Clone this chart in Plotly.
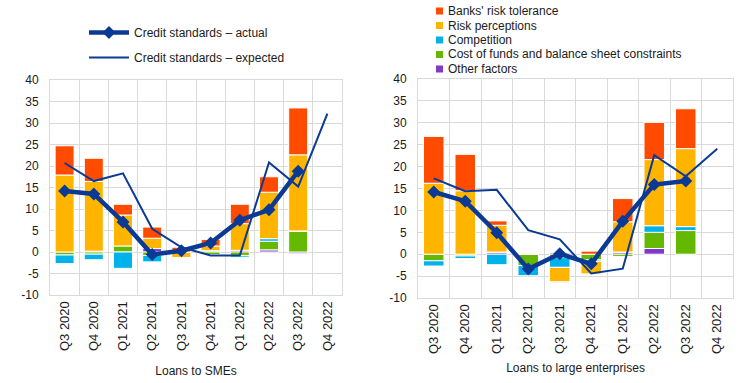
import plotly.graph_objects as go

categories = ["Q3 2020", "Q4 2020", "Q1 2021", "Q2 2021", "Q3 2021",
              "Q4 2021", "Q1 2022", "Q2 2022", "Q3 2022", "Q4 2022"]

factor_names = ["Banks' risk tolerance", "Risk perceptions", "Competition",
                "Cost of funds and balance sheet constraints", "Other factors"]
factor_colors = ["#FF4B00", "#FFB400", "#00B1EA", "#65B800", "#8139C6"]
line_names = ["Credit standards \u2013 actual", "Credit standards \u2013 expected"]
line_color = "#0A3A94"

# Loans to SMEs
sme_brt = [6.8, 5.4, 2.5, 2.6, 1.1, 1.5, 4.5, 3.6, 10.9, None]
sme_rp = [17.9, 16.2, 7.2, 2.4, -1.3, 1.1, 6.2, 10.8, 17.7, None]
sme_comp = [-2.0, -1.3, -3.8, -1.5, 0.0, 0.0, -0.4, 0.6, 0.1, None]
sme_cost = [-0.7, -0.5, 1.4, -0.8, 0.0, -0.6, -0.8, 2.0, 4.8, None]
sme_other = [0.0, 0.2, 0.0, 0.8, 0.0, 0.3, 0.4, 0.5, -0.4, None]
sme_actual = [14.2, 13.5, 7.0, -0.6, 0.3, 2.1, 7.4, 9.8, 18.8, None]
sme_expected = [20.7, 16.5, 18.3, 5.4, 1.1, -0.8, -0.8, 20.8, 15.2, 32.2]

# Loans to large enterprises
le_brt = [10.7, 8.3, 1.0, 0.0, -0.2, 0.7, 5.3, 8.5, 9.1, None]
le_rp = [16.2, 14.5, 6.1, 0.0, -3.3, -2.9, 6.9, 15.1, 17.8, None]
le_comp = [-1.2, -0.6, -2.4, -2.3, -2.2, -0.3, 0.0, 1.5, 0.9, None]
le_cost = [-1.5, -0.4, 0.0, -2.6, -0.8, -1.3, -0.5, 3.7, 5.4, None]
le_other = [0.0, 0.0, 0.5, 0.0, 0.3, 0.0, 0.5, 1.3, 0.0, None]
le_actual = [14.2, 12.1, 4.9, -3.4, 0.1, -2.2, 7.5, 15.9, 16.7, None]
le_expected = [17.3, 14.4, 14.7, 5.5, 3.4, -4.4, -3.3, 22.6, 17.8, 24.1]

y_ticks = [-10, -5, 0, 5, 10, 15, 20, 25, 30, 35, 40]
x_titles = ["Loans to SMEs", "Loans to large enterprises"]

FONT = "Liberation Sans, Arial, sans-serif"
GRID = "#D9D9D9"
TXT = "#1a1a1a"

fig = go.Figure()

panels = [
    ("x", "y", [sme_brt, sme_rp, sme_comp, sme_cost, sme_other], sme_actual, sme_expected),
    ("x2", "y2", [le_brt, le_rp, le_comp, le_cost, le_other], le_actual, le_expected),
]

for p, (xa, ya, factors, actual, expected) in enumerate(panels):
    # stacking order: other (bottom) -> cost -> competition -> risk perceptions -> risk tolerance
    for i in [4, 3, 2, 1, 0]:
        fig.add_trace(go.Bar(
            x=categories, y=factors[i], name=factor_names[i],
            marker=dict(color=factor_colors[i], line=dict(color="white", width=1)),
            xaxis=xa, yaxis=ya, showlegend=False,
        ))
    fig.add_trace(go.Scatter(
        x=categories, y=expected, name=line_names[1], mode="lines",
        line=dict(color=line_color, width=2),
        xaxis=xa, yaxis=ya, showlegend=(p == 0), legend="legend2",
        legendgroup="b", legendrank=2,
    ))
    fig.add_trace(go.Scatter(
        x=categories, y=actual, name=line_names[0], mode="lines+markers",
        line=dict(color=line_color, width=4.5),
        marker=dict(symbol="diamond", size=10, color=line_color),
        xaxis=xa, yaxis=ya, showlegend=(p == 0), legend="legend2",
        legendgroup="a", legendrank=1,
    ))

W, H = 744, 383
def px(x):
    return x / W
def py(y):
    return 1 - y / H

xaxis_common = dict(
    type="category", range=[-0.5, 9.5], tickson="boundaries",
    showgrid=True, gridcolor=GRID, gridwidth=1,
    showline=True, linecolor=GRID, linewidth=1, mirror=True,
    ticks="", tickangle=-90,
    tickfont=dict(family=FONT, size=13, color=TXT),
    automargin=False,
)
yaxis_common = dict(
    range=[-10, 40], tickvals=y_ticks, ticktext=[str(v) for v in y_ticks],
    showgrid=True, gridcolor=GRID, gridwidth=1,
    zeroline=True, zerolinecolor=GRID, zerolinewidth=1,
    showline=True, linecolor=GRID, linewidth=1, mirror=True,
    ticks="", ticklabelstandoff=8,
    tickfont=dict(family=FONT, size=12, color=TXT),
    automargin=False,
)

fig.update_layout(
    width=W, height=H,
    margin=dict(l=0, r=0, t=0, b=0),
    paper_bgcolor="white", plot_bgcolor="white",
    barmode="relative", bargap=0.35,
    font=dict(family=FONT, size=12, color=TXT),
    showlegend=True,
    xaxis=dict(xaxis_common, domain=[px(50), px(342)], anchor="y",
               title=dict(text=x_titles[0], font=dict(family=FONT, size=12, color=TXT), standoff=16)),
    yaxis=dict(yaxis_common, domain=[py(295), py(80)], anchor="x"),
    xaxis2=dict(xaxis_common, domain=[px(418), px(733)], anchor="y2",
                title=dict(text=x_titles[1], font=dict(family=FONT, size=12, color=TXT), standoff=10)),
    yaxis2=dict(yaxis_common, domain=[py(298), py(79)], anchor="x2"),
    legend2=dict(
        x=px(84), y=py(18), xanchor="left", yanchor="top",
        traceorder="grouped", tracegroupgap=6,
        bgcolor="rgba(0,0,0,0)",
        font=dict(family=FONT, size=12, color=TXT),
        itemwidth=40,
    ),
)

# legend for the stacked factors (right panel)
legend_rows_y = [11, 25.5, 40, 54.5, 69]
for name, color, yy in zip(factor_names, factor_colors, legend_rows_y):
    fig.add_shape(type="rect", xref="paper", yref="paper",
                  x0=px(436), x1=px(443), y0=py(yy + 3.5), y1=py(yy - 3.5),
                  fillcolor=color, line=dict(width=0))
    fig.add_annotation(text=name, xref="paper", yref="paper",
                       x=px(446), y=py(yy), xanchor="left", yanchor="middle",
                       showarrow=False, font=dict(family=FONT, size=12, color=TXT))

fig.write_html("out.html", config={"displayModeBar": False},
               post_script="document.body.style.margin='0px';")
